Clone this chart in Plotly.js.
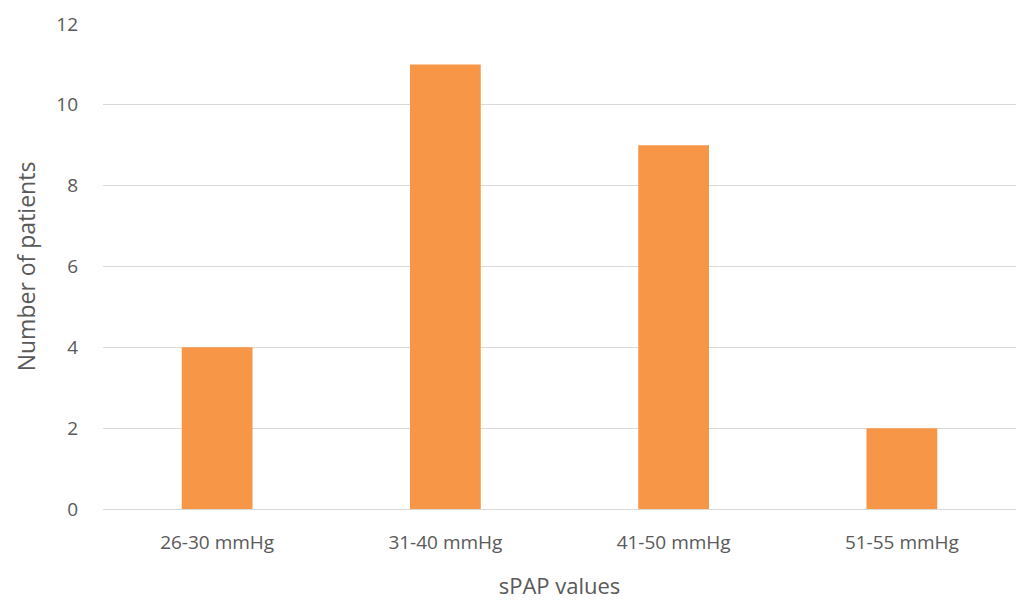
<!DOCTYPE html>
<html>
<head>
<meta charset="utf-8">
<script src="https://cdn.plot.ly/plotly-3.0.1.min.js"></script>
<style>html,body{margin:0;padding:0;background:#fff;}#chart{width:1016px;height:601px;}</style>
</head>
<body>
<div id="chart"></div>
<script>
const categories = ["26-30 mmHg", "31-40 mmHg", "41-50 mmHg", "51-55 mmHg"];
const patients = [4, 11, 9, 2];
const yTicks = [0, 2, 4, 6, 8, 10, 12];

const trace = {
  type: 'bar',
  x: categories,
  y: patients,
  marker: {color: '#F79646'},
  width: 0.31,
  hoverinfo: 'x+y'
};

const layout = {
  width: 1016,
  height: 601,
  margin: {l: 103, r: 0, t: 24, b: 92},
  paper_bgcolor: '#ffffff',
  plot_bgcolor: '#ffffff',
  font: {family: 'Open Sans, Liberation Sans, sans-serif', color: '#595959'},
  showlegend: false,
  bargap: 0.69,
  xaxis: {
    type: 'category',
    tickfont: {size: 19, color: '#595959'},
    ticks: '',
    showline: true,
    linecolor: '#d9d9d9',
    linewidth: 1,
    showgrid: false,
    ticklabelstandoff: 16,
    title: {text: 'sPAP values', font: {size: 22, color: '#595959'}, standoff: 24}
  },
  yaxis: {
    range: [0, 12],
    tickvals: yTicks,
    ticktext: yTicks.map(String),
    tickfont: {size: 19, color: '#595959'},
    ticks: '',
    showgrid: true,
    gridcolor: '#d9d9d9',
    gridwidth: 1,
    zeroline: false,
    showline: false,
    ticklabelstandoff: 24,
    title: {text: 'Number of patients', font: {size: 23, color: '#595959'}, standoff: 14}
  }
};

Plotly.newPlot('chart', [trace], layout, {displayModeBar: false, staticPlot: true});
</script>
</body>
</html>
